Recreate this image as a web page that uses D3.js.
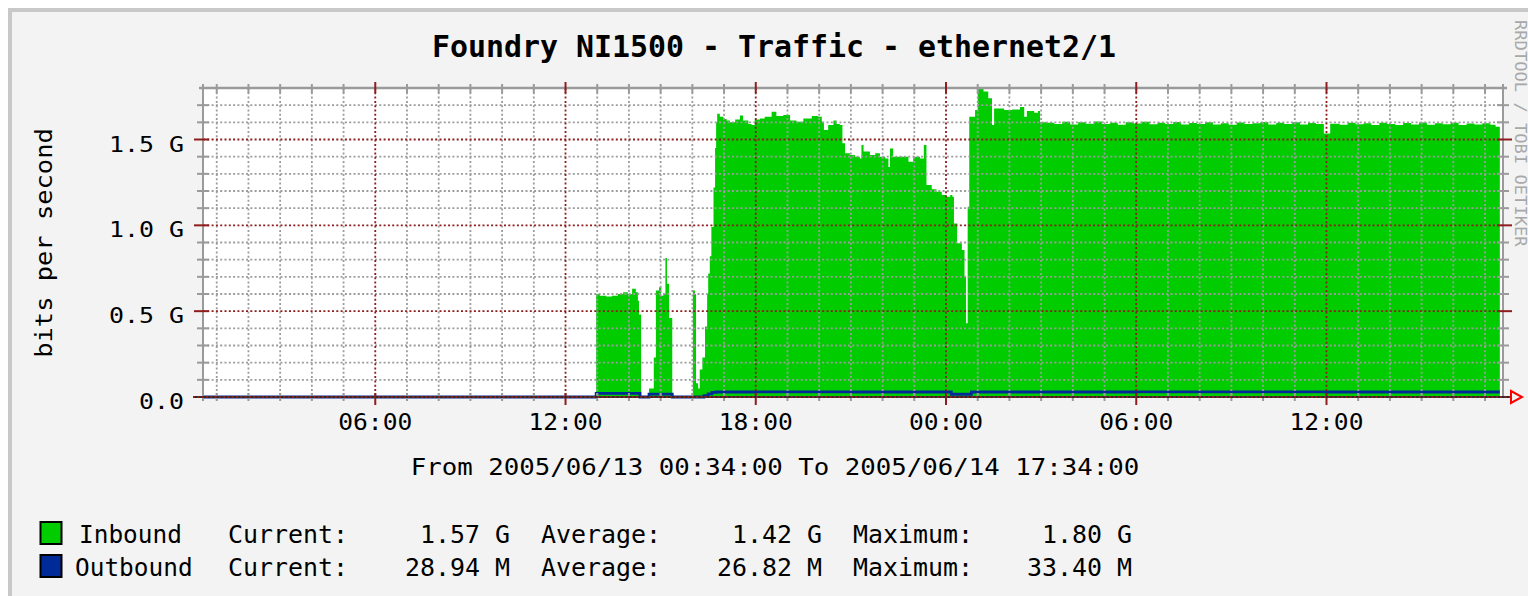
<!DOCTYPE html>
<html>
<head>
<meta charset="utf-8">
<script src="https://cdn.jsdelivr.net/npm/d3@7"></script>
<style>
    html, body { margin: 0; padding: 0; background: #fff; }
    svg { display: block; }
    text { font-family: "DejaVu Sans Mono", "Liberation Mono", monospace; }
</style>
</head>
<body>
<svg id="chart" width="1528" height="596"></svg>
<script>
// --- Data ---
const inTimes = [
    "13 00:34", "13 12:58", "13 13:05", "13 13:17", "13 13:28", "13 13:39", "13 13:49", "13 13:58",
    "13 14:06", "13 14:13", "13 14:17", "13 14:19", "13 14:23", "13 14:38", "13 14:47", "13 14:51",
    "13 14:57", "13 15:01", "13 15:05", "13 15:09", "13 15:12", "13 15:16", "13 15:22", "13 16:01",
    "13 16:05", "13 16:07", "13 16:11", "13 16:14", "13 16:19", "13 16:24", "13 16:28", "13 16:30",
    "13 16:33", "13 16:36", "13 16:40", "13 16:43", "13 16:45", "13 16:47", "13 16:52", "13 16:59",
    "13 17:05", "13 17:11", "13 17:21", "13 17:30", "13 17:36", "13 17:46", "13 17:52", "13 17:58",
    "13 18:08", "13 18:17", "13 18:30", "13 18:39", "13 18:52", "13 19:05", "13 19:17", "13 19:30",
    "13 19:46", "13 19:58", "13 20:05", "13 20:09", "13 20:17", "13 20:27", "13 20:33", "13 20:39",
    "13 20:44", "13 20:49", "13 20:58", "13 21:08", "13 21:17", "13 21:20", "13 21:24", "13 21:36",
    "13 21:46", "13 21:55", "13 22:05", "13 22:11", "13 22:14", "13 22:20", "13 22:39", "13 22:49",
    "13 22:58", "13 23:11", "13 23:18", "13 23:23", "13 23:33", "13 23:42", "13 23:52", "14 00:01",
    "14 00:08", "14 00:12", "14 00:15", "14 00:21", "14 00:30", "14 00:35", "14 00:38", "14 00:41",
    "14 00:44", "14 00:55", "14 01:00", "14 01:11", "14 01:20", "14 01:27", "14 01:31", "14 01:50",
    "14 02:05", "14 02:20", "14 02:28", "14 02:33", "14 02:47", "14 02:54", "14 02:58",
    "14 03:10", "14 03:25", "14 03:40", "14 03:55", "14 04:10", "14 04:25", "14 04:40", "14 04:55",
    "14 05:10", "14 05:25", "14 05:40", "14 05:55", "14 06:10", "14 06:25", "14 06:40", "14 06:55",
    "14 07:10", "14 07:25", "14 07:40", "14 07:55", "14 08:10", "14 08:25", "14 08:40", "14 08:55",
    "14 09:10", "14 09:25", "14 09:40", "14 09:55", "14 10:10", "14 10:25", "14 10:40", "14 10:55",
    "14 11:10", "14 11:25", "14 11:40", "14 11:55", "14 12:07", "14 12:25", "14 12:40", "14 12:55",
    "14 13:10", "14 13:25", "14 13:40", "14 13:55", "14 14:10", "14 14:25", "14 14:40", "14 14:55",
    "14 15:10", "14 15:25", "14 15:40", "14 15:55", "14 16:10", "14 16:25", "14 16:40", "14 16:55",
    "14 17:10", "14 17:20", "14 17:28"
];
const inGbps = [
    0, 0.60, 0.59, 0.585, 0.59, 0.60, 0.61, 0.60,
    0.63, 0.61, 0.56, 0.48, 0, 0.05, 0.23, 0.62,
    0.64, 0.59, 0.60, 0.81, 0.66, 0.46, 0, 0.62,
    0.60, 0.08, 0.05, 0.16, 0.23, 0.41, 0.60, 0.72,
    0.82, 0.99, 1.22, 1.45, 1.60, 1.65, 1.633, 1.62,
    1.61, 1.60, 1.617, 1.64, 1.61, 1.59, 1.585, 1.617,
    1.623, 1.633, 1.662, 1.637, 1.643, 1.61, 1.604, 1.623,
    1.637, 1.633, 1.604, 1.555, 1.585, 1.61, 1.59, 1.585,
    1.478, 1.42, 1.409, 1.40, 1.39, 1.468, 1.43, 1.409,
    1.42, 1.40, 1.39, 1.34, 1.448, 1.40, 1.40, 1.37,
    1.40, 1.39, 1.468, 1.235, 1.21, 1.196, 1.176, 1.167,
    1.176, 1.167, 1.01, 0.895, 0.856, 0.70, 0.43, 1.108,
    1.633, 1.672, 1.80, 1.78, 1.74, 1.585, 1.68, 1.672,
    1.675, 1.69, 1.633, 1.666, 1.656, 1.666, 1.60,
    1.598, 1.590, 1.603, 1.588, 1.600, 1.592, 1.605, 1.590,
    1.597, 1.586, 1.600, 1.593, 1.604, 1.589, 1.598, 1.591,
    1.602, 1.587, 1.596, 1.590, 1.601, 1.588, 1.595, 1.586,
    1.599, 1.590, 1.594, 1.602, 1.588, 1.597, 1.590, 1.600,
    1.587, 1.596, 1.591, 1.535, 1.592, 1.586, 1.598, 1.589,
    1.595, 1.585, 1.597, 1.590, 1.584, 1.596, 1.588, 1.599,
    1.586, 1.594, 1.589, 1.597, 1.585, 1.593, 1.588, 1.595,
    1.586, 1.575, 0
];
const outTimes = [
    "13 00:34", "13 12:58", "13 14:21", "13 14:38", "13 15:22", "13 16:22", "13 16:30", "13 16:37",
    "13 16:45", "13 18:00", "13 21:00", "14 00:10", "14 00:48", "14 06:00", "14 12:00", "14 17:28"
];
const outMbps = [0, 21, 0, 17, 0, 8, 18, 27, 29, 30, 29, 16, 29, 30, 29, 29];

const yLabelVals = [0, 0.5, 1.0, 1.5];
const yLabels = ["0.0", "0.5 G", "1.0 G", "1.5 G"];

const seriesNames = ["Inbound", "Outbound"];
const seriesColors = ["#00cc00", "#002a97"];
const currentVals = ["1.57 G", "28.94 M"];
const averageVals = ["1.42 G", "26.82 M"];
const maximumVals = ["1.80 G", "33.40 M"];

const title = "Foundry NI1500 - Traffic - ethernet2/1";
const yTitle = "bits per second";
const period = "From 2005/06/13 00:34:00 To 2005/06/14 17:34:00";
const watermark = "RRDTOOL / TOBI OETIKER";

// --- Setup ---
const parse = d3.timeParse("%Y/%m/%d %H:%M");
const day = s => parse("2005/06/" + s);
const m = {left: 203, right: 1503, top: 88, bottom: 397};
const gridGray = "#9c9c9c", gridRed = "#8e1e1e", frameGray = "#9a9a9a";

const t0 = day("13 00:34"), t1 = day("14 17:34");
const x = d3.scaleTime().domain([t0, t1]).range([m.left, m.right]);
const y = d3.scaleLinear().domain([0, 1.8]).range([m.bottom, m.top]);

const inbound = inTimes.map((s, i) => ({t: day(s), v: inGbps[i]}));
const outbound = outTimes.map((s, i) => ({t: day(s), v: outMbps[i] / 1000}));

const svg = d3.select("#chart");

// text helper: monospaced text stretched to the reference's character pitch
function mono(g, str, px, py, size, pitch, anchor) {
    return g.append("text")
        .attr("x", px).attr("y", py)
        .attr("font-size", size)
        .attr("fill", "#000")
        .attr("text-anchor", anchor || "start")
        .attr("textLength", str.length * pitch)
        .attr("lengthAdjust", "spacingAndGlyphs")
        .attr("xml:space", "preserve")
        .text(str);
}

// background + shaded border
svg.append("rect").attr("x", 10).attr("y", 10).attr("width", 1530).attr("height", 600)
    .attr("fill", "#f3f3f3").attr("stroke", "#c8c8c8").attr("stroke-width", 4);
svg.append("rect").attr("x", m.left).attr("y", m.top)
    .attr("width", m.right - m.left).attr("height", m.bottom - m.top).attr("fill", "#fff");

// --- Data marks ---
const area = d3.area().x(d => x(d.t)).y0(y(0)).y1(d => y(d.v)).curve(d3.curveStepAfter);
svg.append("path").datum(inbound).attr("d", area).attr("fill", seriesColors[0]);

const line = d3.line().x(d => x(d.t)).y(d => y(d.v)).curve(d3.curveStepAfter);
svg.append("path").datum(outbound).attr("d", line)
    .attr("fill", "none").attr("stroke", seriesColors[1]).attr("stroke-width", 2.8);

// --- Grid (drawn on top, like rrdtool) ---
const isMajorY = v => Math.abs(v * 2 - Math.round(v * 2)) < 1e-6;
const yTicks = y.ticks(18).filter(v => v > 0 && v < 1.8);
const hours = d3.timeHour.range(d3.timeHour.ceil(t0), t1);
const isMajorX = d => d.getHours() % 6 === 0;

const grid = svg.append("g").attr("stroke-width", 1.8).attr("stroke-dasharray", "2 2.3");
grid.selectAll(".hmin").data(yTicks.filter(v => !isMajorY(v))).join("line")
    .attr("x1", m.left).attr("x2", m.right).attr("y1", d => y(d)).attr("y2", d => y(d))
    .attr("stroke", gridGray);
grid.selectAll(".vmin").data(hours.filter(d => !isMajorX(d))).join("line")
    .attr("x1", d => x(d)).attr("x2", d => x(d)).attr("y1", m.top).attr("y2", m.bottom)
    .attr("stroke", gridGray);
grid.selectAll(".hmaj").data(yLabelVals).join("line")
    .attr("x1", m.left).attr("x2", m.right).attr("y1", d => y(d)).attr("y2", d => y(d))
    .attr("stroke", gridRed);
grid.selectAll(".vmaj").data(hours.filter(isMajorX)).join("line")
    .attr("x1", d => x(d)).attr("x2", d => x(d)).attr("y1", m.top).attr("y2", m.bottom)
    .attr("stroke", gridRed);

// frame
svg.append("line").attr("x1", m.left - 4).attr("x2", m.right + 4).attr("y1", m.top).attr("y2", m.top)
    .attr("stroke", frameGray).attr("stroke-width", 2.5);
svg.append("line").attr("x1", m.left).attr("x2", m.left).attr("y1", m.top - 4).attr("y2", m.bottom + 4)
    .attr("stroke", frameGray).attr("stroke-width", 2);
svg.append("line").attr("x1", m.right).attr("x2", m.right).attr("y1", m.top - 4).attr("y2", m.bottom)
    .attr("stroke", frameGray).attr("stroke-width", 2);

// ticks on the frame
const ticks = svg.append("g").attr("stroke-width", 2);
ticks.selectAll(".xt").data(hours).join("line")
    .attr("x1", d => x(d)).attr("x2", d => x(d))
    .attr("y1", d => isMajorX(d) ? m.top - 6 : m.top - 4).attr("y2", m.top + 5)
    .attr("stroke", d => isMajorX(d) ? gridRed : frameGray);
ticks.selectAll(".xb").data(hours).join("line")
    .attr("x1", d => x(d)).attr("x2", d => x(d))
    .attr("y1", m.bottom - 4).attr("y2", d => isMajorX(d) ? m.bottom + 8 : m.bottom + 4)
    .attr("stroke", d => isMajorX(d) ? gridRed : frameGray);
ticks.selectAll(".yl").data(yTicks.concat([0])).join("line")
    .attr("x1", d => isMajorY(d) ? m.left - 9 : m.left - 6).attr("x2", m.left + 6)
    .attr("y1", d => y(d)).attr("y2", d => y(d))
    .attr("stroke", d => isMajorY(d) ? gridRed : frameGray);
ticks.selectAll(".yr").data(yTicks).join("line")
    .attr("x1", m.right - 6).attr("x2", d => isMajorY(d) ? m.right + 9 : m.right + 6)
    .attr("y1", d => y(d)).attr("y2", d => y(d))
    .attr("stroke", d => isMajorY(d) ? gridRed : frameGray);

// x axis + arrow
svg.append("line").attr("x1", m.left - 10).attr("x2", m.right + 8).attr("y1", y(0)).attr("y2", y(0))
    .attr("stroke", "#2a2a2a").attr("stroke-width", 2);
svg.append("line").attr("x1", m.left - 10).attr("x2", m.right + 8).attr("y1", y(0)).attr("y2", y(0))
    .attr("stroke", gridRed).attr("stroke-width", 1.8).attr("stroke-dasharray", "2 2.3");
svg.append("path")
    .attr("d", `M${m.right + 8},${y(0) - 6} L${m.right + 19},${y(0)} L${m.right + 8},${y(0) + 6} Z`)
    .attr("fill", "none").attr("stroke", "#ff0000").attr("stroke-width", 2);

// --- Texts ---
mono(svg, title, 774, 57, 31, 18, "middle").attr("font-weight", "bold");

yLabelVals.forEach((v, i) => mono(svg, yLabels[i], 184, y(v) + 12, 22, 15, "end"));
hours.filter(isMajorX).forEach(d => mono(svg, d3.timeFormat("%H:%M")(d), x(d), 430, 23, 14.8, "middle"));

mono(svg.append("g").attr("transform", "translate(52,243) rotate(-90)"), yTitle, 0, 0, 23, 15.3, "middle");
mono(svg, period, 775, 475, 23, 15.5, "middle");
mono(svg.append("g").attr("transform", "translate(1515,20) rotate(90)"), watermark, 0, 0, 15, 10.3, "start")
    .attr("fill", "#a8a8a8");

// legend
seriesNames.forEach((name, i) => {
    const base = 543 + i * 33;
    svg.append("rect").attr("x", 40.5).attr("y", base - 21).attr("width", 21).attr("height", 22)
        .attr("fill", seriesColors[i]).attr("stroke", "#000").attr("stroke-width", 2);
    mono(svg, name, i === 0 ? 79 : 75, base, 24, 14.7);
    mono(svg, "Current:", 228, base, 24, 15);
    mono(svg, currentVals[i], 510, base, 24, 15, "end");
    mono(svg, "Average:", 541, base, 24, 15);
    mono(svg, averageVals[i], 822, base, 24, 15, "end");
    mono(svg, "Maximum:", 853, base, 24, 15);
    mono(svg, maximumVals[i], 1132, base, 24, 15, "end");
});
</script>
</body>
</html>
